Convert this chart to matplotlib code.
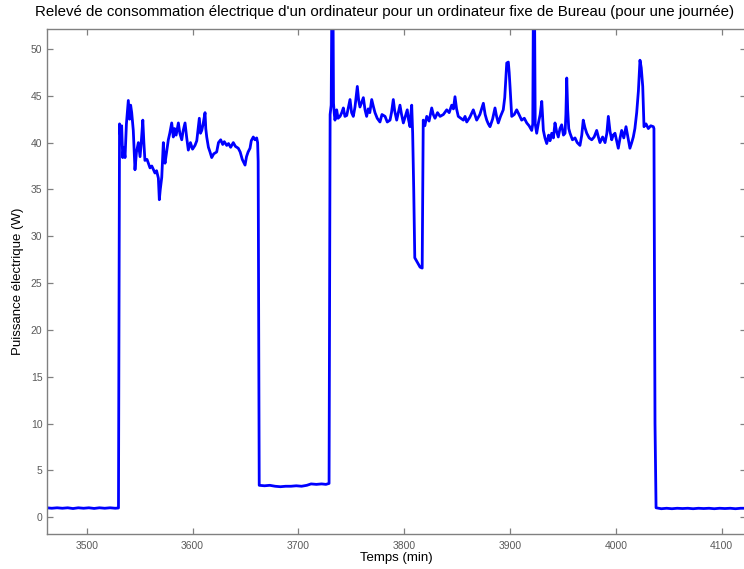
import matplotlib
matplotlib.use("Agg")
import matplotlib.pyplot as plt

# (time in min, power in W), one list per phase
idle_start = [
    (3462, 1.0), (3467, 0.95), (3472, 1.0), (3477, 0.95), (3482, 1.0),
    (3487, 0.92), (3492, 1.0), (3497, 0.95), (3502, 1.0), (3507, 0.93),
    (3512, 1.0), (3517, 0.95), (3522, 1.0), (3527, 0.95), (3530, 0.98),
]
morning = [
    (3531, 42.0), (3532, 40.5), (3533, 41.8), (3534, 38.4), (3535, 39.5),
    (3536.2, 38.4), (3537.5, 42.0), (3539.3, 44.5), (3540.5, 42.5),
    (3541.5, 44.0), (3542.5, 43.2), (3544, 41.3), (3545.6, 37.1),
    (3547, 39.0), (3548.8, 40.0), (3550.4, 38.5), (3551.5, 40.0),
    (3553, 42.4), (3554, 40.0), (3555, 38.1), (3557, 38.2), (3559.8, 37.3),
    (3561.5, 37.5), (3564.5, 36.75), (3566, 37.0), (3567.7, 36.2),
    (3568.6, 33.9), (3569.5, 35.0), (3570.9, 36.3), (3572.4, 40.0),
    (3573.2, 38.5), (3574, 37.8), (3575.5, 39.0), (3577.1, 40.3),
    (3578.5, 41.0), (3580.3, 42.1), (3581.8, 40.6), (3583, 41.5),
    (3584.5, 40.8), (3586.6, 42.1), (3588, 41.0), (3589.8, 40.3),
    (3591, 41.2), (3592.9, 42.1), (3594.5, 40.5), (3596, 39.2),
    (3598, 40.0), (3600, 39.3), (3602.3, 39.7), (3604, 40.2),
    (3606.4, 42.6), (3607.5, 41.0), (3608.7, 41.3), (3610, 42.0),
    (3611.8, 43.2), (3612.5, 41.5), (3613.4, 40.6), (3615, 39.5),
    (3616.5, 39.0), (3618.1, 38.4), (3620, 38.8), (3622.8, 39.0),
    (3624.5, 40.0), (3626.6, 40.3), (3628.5, 39.8), (3630, 40.1),
    (3632.3, 39.7), (3634, 39.9), (3636, 39.5), (3638.5, 40.0),
    (3640.5, 39.6), (3643.2, 39.4), (3645, 39.0), (3647, 38.2),
    (3649.6, 37.6), (3651, 38.5), (3652.5, 39.0), (3654.3, 39.4),
    (3655.5, 40.2), (3657.4, 40.6), (3659, 40.3), (3660.6, 40.5),
    (3661.5, 40.0), (3662, 38.0),
]
lunch = [
    (3663, 3.4), (3668, 3.35), (3673, 3.4), (3678, 3.3), (3683, 3.25),
    (3688, 3.3), (3693, 3.3), (3698, 3.35), (3703, 3.3), (3708, 3.4),
    (3712, 3.55), (3717, 3.5), (3722, 3.55), (3726, 3.5), (3729, 3.6),
]
afternoon = [
    (3730, 43.0), (3731, 44.0), (3731.8, 58.0), (3732.6, 58.0),
    (3733.2, 44.2), (3734, 43.0), (3734.6, 42.4), (3735.5, 43.0),
    (3736.2, 43.5), (3737.5, 42.6), (3739.4, 42.8), (3741, 43.2),
    (3742.5, 43.7), (3744, 42.8), (3745.7, 42.9), (3747, 43.6),
    (3748.8, 44.6), (3750.3, 43.2), (3751.9, 42.8), (3753.5, 43.8),
    (3755.7, 46.0), (3757, 44.5), (3758.2, 43.8), (3759.8, 44.3),
    (3761.4, 44.8), (3763, 43.5), (3764.5, 42.8), (3766, 43.6),
    (3767.5, 43.2), (3769.3, 44.6), (3771, 43.8), (3772.4, 43.2),
    (3774.5, 42.6), (3777.1, 42.2), (3779, 43.0), (3781.9, 42.8),
    (3784, 42.2), (3786.6, 42.4), (3788, 43.2), (3789.7, 44.6),
    (3791, 43.4), (3792.9, 42.4), (3794.5, 43.2), (3796, 44.0),
    (3797.5, 43.0), (3799.2, 42.1), (3801, 42.8), (3802.9, 43.5),
    (3804, 42.5), (3805.5, 41.7), (3806.3, 43.0), (3807.1, 44.0),
    (3808, 41.0), (3809, 35.0), (3810, 27.7), (3812, 27.3),
    (3813.5, 27.0), (3815, 26.7), (3817, 26.6), (3818, 42.4),
    (3819.5, 41.8), (3821.3, 42.8), (3823.5, 42.3), (3826, 43.7),
    (3827.5, 43.0), (3829.1, 42.6), (3831.5, 43.2), (3833.9, 42.8),
    (3837, 43.0), (3840.2, 43.5), (3842.5, 43.2), (3844.9, 44.0),
    (3846.5, 43.6), (3848, 44.9), (3849.5, 43.6), (3851.1, 42.8),
    (3853.5, 42.6), (3855.9, 42.4), (3857.5, 42.8), (3859.1, 42.2),
    (3862, 42.7), (3865.3, 43.5), (3867, 42.9), (3868.5, 42.4),
    (3871.5, 43.0), (3874.8, 44.2), (3876.5, 43.0), (3878, 42.4),
    (3879.5, 42.0), (3881.1, 41.7), (3883.5, 42.5), (3885.8, 43.7),
    (3887.3, 42.8), (3888.9, 42.1), (3891, 42.8), (3893.6, 43.5),
    (3895, 44.8), (3896.9, 48.5), (3898.4, 48.6), (3899.2, 47.5),
    (3900, 46.0), (3901.6, 42.8), (3904, 43.0), (3906.3, 43.5),
    (3908.5, 43.0), (3911, 42.4), (3913.5, 42.6), (3915.8, 42.1),
    (3918, 41.8), (3920.5, 41.3), (3921.5, 42.0), (3922.2, 58.0),
    (3923, 58.0), (3923.8, 42.0), (3925.2, 41.0), (3927, 42.2),
    (3928.5, 43.0), (3930, 44.4), (3931.5, 41.3), (3933, 40.5),
    (3934.7, 39.9), (3936.5, 40.8), (3937.8, 40.2), (3939.4, 41.0),
    (3941, 40.5), (3942.5, 42.1), (3944, 41.2), (3945.6, 40.6),
    (3947.2, 41.5), (3948.8, 41.9), (3950.5, 40.8), (3952, 41.0),
    (3952.8, 43.0), (3953.6, 46.9), (3954.5, 43.5), (3955.5, 41.5),
    (3956.7, 41.0), (3959, 40.3), (3961.4, 40.5), (3963.5, 40.0),
    (3966.1, 39.7), (3967.8, 40.8), (3969.2, 42.4), (3970.8, 41.6),
    (3972.5, 41.0), (3974.8, 40.5), (3977.2, 40.3), (3979.5, 40.6),
    (3981.9, 41.3), (3983.5, 40.6), (3985, 40.0), (3987.5, 40.6),
    (3989.8, 40.0), (3991.5, 41.0), (3992.9, 42.8), (3994.5, 41.2),
    (3996.1, 40.3), (3997.5, 40.8), (3999.2, 41.0), (4000.8, 40.2),
    (4002.3, 39.4), (4004, 40.5), (4005.5, 41.3), (4007.5, 40.5),
    (4009.6, 41.7), (4011.5, 40.5), (4013.3, 39.4), (4015, 40.0),
    (4016.5, 40.6), (4018, 41.5), (4019.7, 43.2), (4021.3, 45.5),
    (4022.8, 48.8), (4024, 48.0), (4025.4, 46.0), (4026.6, 41.7),
    (4028.5, 42.0), (4030.7, 41.5), (4033, 41.8), (4035.4, 41.7),
    (4036, 41.5), (4037, 10.0),
]
idle_end = [
    (4038, 1.0), (4043, 0.9), (4048, 0.95), (4053, 0.9), (4058, 0.95),
    (4063, 0.92), (4068, 0.95), (4073, 0.9), (4078, 0.95), (4083, 0.92),
    (4088, 0.95), (4093, 0.9), (4098, 0.95), (4103, 0.92), (4108, 0.95),
    (4113, 0.9), (4118, 0.95), (4123, 0.95),
]

x_ticks = [3500, 3600, 3700, 3800, 3900, 4000, 4100]
y_ticks = [0, 5, 10, 15, 20, 25, 30, 35, 40, 45, 50]

trace = idle_start + morning + lunch + afternoon + idle_end
t_min = [p[0] for p in trace]
power_w = [p[1] for p in trace]

plt.rcParams['font.family'] = ['Liberation Sans', 'DejaVu Sans']

fig = plt.figure(figsize=(7.44, 5.69), dpi=100)
ax = fig.add_axes([0.0628, 0.0615, 0.9399, 0.887])

ax.plot(t_min, power_w, color=(0, 0, 1), lw=2.0)

ax.set_xlim(3462.2, 4123)
ax.set_ylim(-1.8, 52.1)
ax.set_xticks(x_ticks)
ax.set_yticks(y_ticks)

grey = '#808080'
for s in ax.spines.values():
    s.set_color(grey)
    s.set_linewidth(1.0)
ax.tick_params(direction='in', length=4.3, width=0.9, color=grey,
               labelcolor='#5a5a5a', labelsize=7.5,
               top=True, right=True)
ax.tick_params(axis='x', pad=5)
ax.tick_params(axis='y', pad=3)

ax.set_xlabel('Temps (min)', fontsize=9.5, labelpad=1)
ax.set_ylabel('Puissance électrique (W)', fontsize=9.5)
ax.yaxis.set_label_coords(-0.032, 0.5)

fig.text(385 / 744, 1 - 12 / 569,
         "Relevé de consommation électrique d'un ordinateur pour un ordinateur fixe de Bureau (pour une journée)",
         ha='center', va='center', fontsize=10.8)

fig.savefig('out.png', dpi=100)
